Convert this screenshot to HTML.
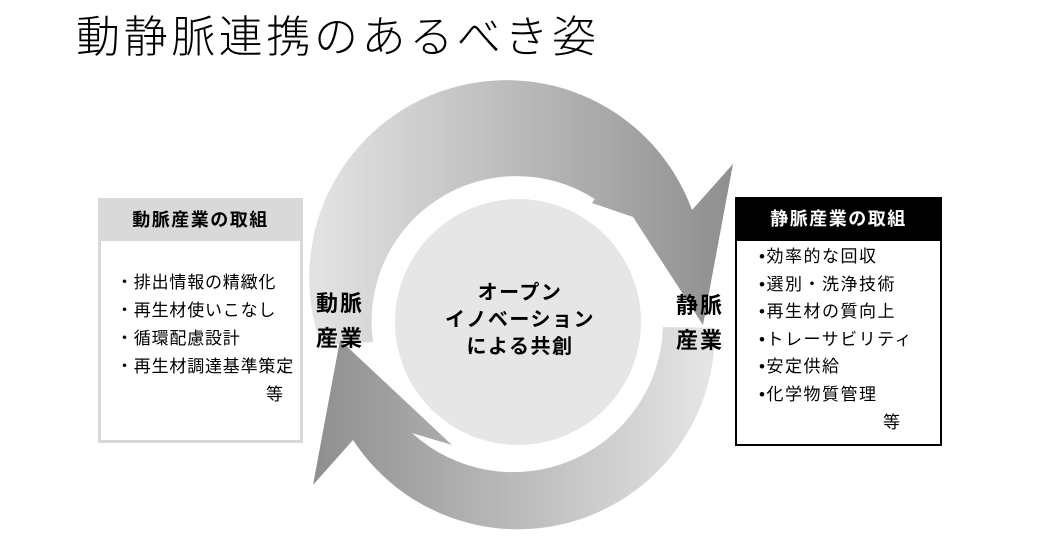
<!DOCTYPE html>
<html><head><meta charset="utf-8"><style>
body{margin:0;width:1042px;height:538px;background:#fff;position:relative;overflow:hidden;font-family:"Liberation Sans","Noto Sans CJK JP",sans-serif;color:#000}
.t{position:absolute;white-space:nowrap}
</style></head><body>
<div class="t" style="left:76px;top:10px;font-size:44px;font-weight:300;letter-spacing:3.6px;line-height:56px">動静脈連携のあるべき姿</div>

<svg width="1042" height="538" style="position:absolute;left:0;top:0">
<defs>
<linearGradient id="g" gradientUnits="userSpaceOnUse" x1="320" y1="0" x2="735" y2="0">
<stop offset="0" stop-color="#e2e2e2"/><stop offset="1" stop-color="#8e8e8e"/>
</linearGradient>
<linearGradient id="g2" gradientUnits="userSpaceOnUse" x1="310" y1="0" x2="716" y2="0">
<stop offset="0" stop-color="#8e8e8e"/><stop offset="1" stop-color="#e6e6e6"/>
</linearGradient>
</defs>
<circle cx="518" cy="322" r="123" fill="#e6e6e6"/>
<path d="M321.1,345 A197,197 0 0 1 692,210 L733,164 L703,325 L633,217 L592,203 L594.8,199 A145,145 0 0 0 373.1,342 Z" fill="url(#g)"/>
<path d="M714.9,327.8 A197,197 0 0 1 353,440 L313,485 L340,340 L452,445 L412,433 A150,150 0 0 0 663,327 Z" fill="url(#g2)"/>
</svg>

<div class="t" style="left:316px;top:286px;font-size:22px;font-weight:bold;letter-spacing:2px;line-height:35px">動脈<br>産業</div>
<div class="t" style="left:676px;top:288px;font-size:22px;font-weight:bold;letter-spacing:2px;line-height:35px">静脈<br>産業</div>
<div class="t" style="left:410px;top:280px;width:220px;text-align:center;font-size:20px;font-weight:bold;letter-spacing:1.5px;line-height:27px">オープン<br>イノベーション<br>による共創</div>

<div style="position:absolute;left:98px;top:198px;width:199px;height:239px;border:3px solid #d9d9d9;background:#fff">
<div style="height:40px;background:#d9d9d9;text-align:center;font-weight:bold;font-size:18px;letter-spacing:1.5px;line-height:38px">動脈産業の取組</div>
<div class="t" style="left:15px;top:68px;font-size:17px;letter-spacing:0.8px;line-height:28px">・排出情報の精緻化<br>・再生材使いこなし<br>・循環配慮設計<br>・再生材調達基準策定<br><span style="padding-left:150px">等</span></div>
</div>

<div style="position:absolute;left:735px;top:197px;width:203px;height:245px;border:2px solid #000;background:#fff">
<div style="height:42px;background:#000;color:#fff;text-align:center;font-weight:bold;font-size:18px;letter-spacing:1.5px;line-height:40px">静脈産業の取組</div>
<div class="t" style="left:22px;top:44px;font-size:17px;letter-spacing:1.5px;line-height:27.6px">•効率的な回収<br>•選別・洗浄技術<br>•再生材の質向上<br>•トレーサビリティ<br>•安定供給<br>•化学物質管理<br><span style="padding-left:124px">等</span></div>
</div>
</body></html>
